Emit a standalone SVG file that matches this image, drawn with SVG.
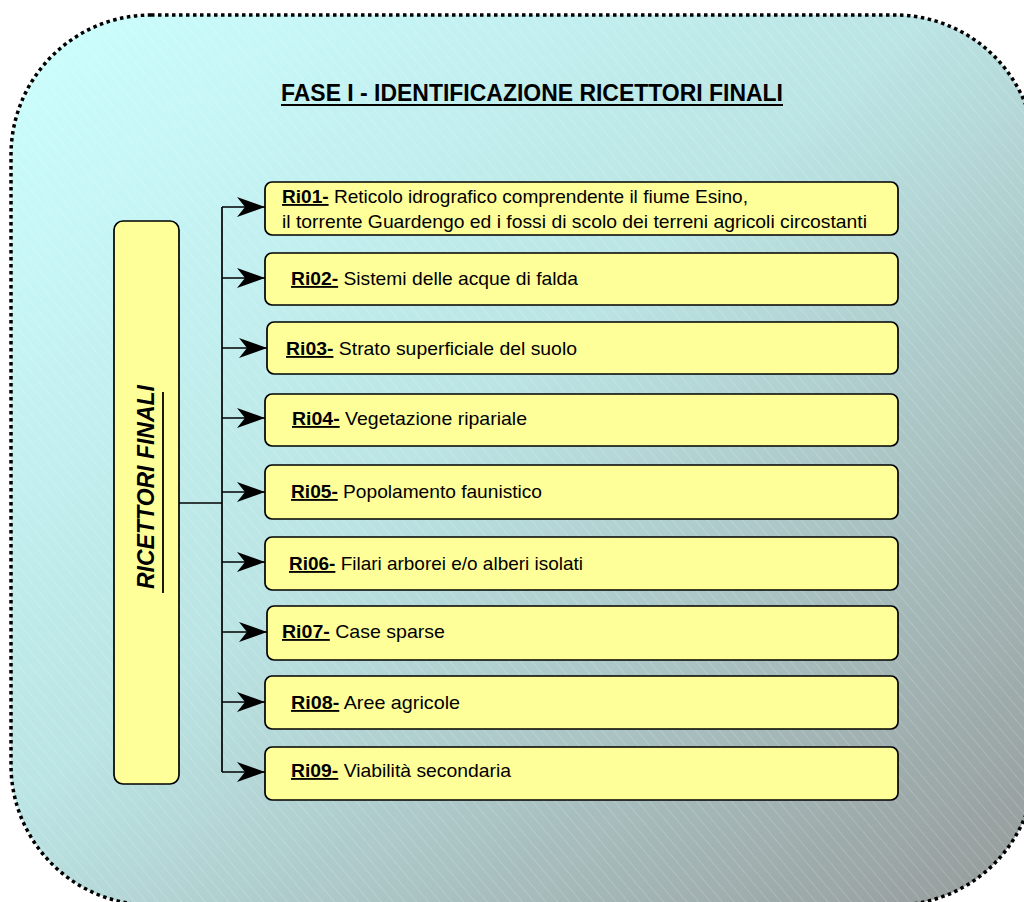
<svg xmlns="http://www.w3.org/2000/svg" width="1024" height="902" viewBox="0 0 1024 902">
  <defs>
    <linearGradient id="panelFill" x1="0" y1="0" x2="1" y2="1">
      <stop offset="0" stop-color="#CCFFFF"/>
      <stop offset="0.45" stop-color="#BBE4E4"/>
      <stop offset="1" stop-color="#959999"/>
    </linearGradient>
    <pattern id="hatch" width="9" height="9" patternUnits="userSpaceOnUse" patternTransform="rotate(-40)">
      <line x1="0" y1="0" x2="0" y2="9" stroke="#FFFFFF" stroke-opacity="0.4" stroke-width="0.8"/>
    </pattern>
    <marker id="arrow" markerUnits="userSpaceOnUse" markerWidth="32" markerHeight="24" refX="29" refY="12" orient="auto">
      <path d="M29,12 L1,2 L9,12 L1,22 Z" fill="#000"/>
    </marker>
    <style>
      .box { fill: #FFFF99; stroke: #000; stroke-width: 1.7; }
      .lbl { font-family: "Liberation Sans", Arial, sans-serif; font-size: 18.5px; fill: #000; }
      .b { font-weight: bold; text-decoration: underline; }
      .wire { fill: none; stroke: #000; stroke-width: 1.7; }
    </style>
  </defs>

  <!-- background panel -->
  <g id="panel">
    <rect x="11" y="15" width="1024" height="890" rx="140" ry="140" fill="url(#panelFill)"/>
    <rect x="11" y="15" width="1024" height="890" rx="140" ry="140" fill="url(#hatch)" stroke="#000" stroke-width="3.5" stroke-dasharray="3.5 3.5"/>
  </g>

  <!-- title -->
  <g id="title">
    <text x="281" y="101" font-family="Liberation Sans, Arial, sans-serif" font-size="23" font-weight="bold" textLength="502" lengthAdjust="spacingAndGlyphs">FASE I - IDENTIFICAZIONE RICETTORI FINALI</text>
    <line x1="281" y1="105" x2="783" y2="105" stroke="#000" stroke-width="2"/>
  </g>

  <!-- connectors -->
  <g id="connectors">
    <line class="wire" x1="179" y1="503" x2="222" y2="503" stroke-width="2.8"/>
    <line class="wire" x1="222" y1="207" x2="222" y2="772"/>
    <line class="wire" x1="222" y1="207" x2="265" y2="207" marker-end="url(#arrow)"/>
    <line class="wire" x1="222" y1="278" x2="265" y2="278" marker-end="url(#arrow)"/>
    <line class="wire" x1="222" y1="348" x2="267" y2="348" marker-end="url(#arrow)"/>
    <line class="wire" x1="222" y1="418" x2="265" y2="418" marker-end="url(#arrow)"/>
    <line class="wire" x1="222" y1="492" x2="265" y2="492" marker-end="url(#arrow)"/>
    <line class="wire" x1="222" y1="562" x2="265" y2="562" marker-end="url(#arrow)"/>
    <line class="wire" x1="222" y1="632" x2="267" y2="632" marker-end="url(#arrow)"/>
    <line class="wire" x1="222" y1="702" x2="265" y2="702" marker-end="url(#arrow)"/>
    <line class="wire" x1="222" y1="772" x2="265" y2="772" marker-end="url(#arrow)"/>
  </g>

  <!-- source node -->
  <g id="ricettori">
    <rect class="box" x="114" y="221" width="65" height="563" rx="9"/>
    <text transform="translate(154,589) rotate(-90)" font-family="Liberation Sans, Arial, sans-serif" font-size="23" font-weight="bold" font-style="italic" textLength="204" lengthAdjust="spacingAndGlyphs">RICETTORI FINALI</text>
    <line x1="163" y1="392" x2="163" y2="593" stroke="#000" stroke-width="1.8"/>
  </g>

  <!-- receptor nodes -->
  <g id="ri01">
    <rect class="box" x="265" y="182" width="633" height="53" rx="7"/>
    <text class="lbl" x="282" y="203" textLength="466" lengthAdjust="spacingAndGlyphs"><tspan class="b">Ri01-</tspan><tspan> Reticolo idrografico comprendente il fiume Esino,</tspan></text>
    <text class="lbl" x="282" y="228" textLength="585" lengthAdjust="spacingAndGlyphs">il torrente Guardengo ed i fossi di scolo dei terreni agricoli circostanti</text>
  </g>
  <g id="ri02">
    <rect class="box" x="265" y="253" width="633" height="52" rx="7"/>
    <text class="lbl" x="291" y="285" textLength="287" lengthAdjust="spacingAndGlyphs"><tspan class="b">Ri02-</tspan><tspan> Sistemi delle acque di falda</tspan></text>
  </g>
  <g id="ri03">
    <rect class="box" x="267" y="322" width="631" height="52" rx="7"/>
    <text class="lbl" x="286" y="355" textLength="291" lengthAdjust="spacingAndGlyphs"><tspan class="b">Ri03-</tspan><tspan> Strato superficiale del suolo</tspan></text>
  </g>
  <g id="ri04">
    <rect class="box" x="265" y="394" width="633" height="52" rx="7"/>
    <text class="lbl" x="292" y="425" textLength="235" lengthAdjust="spacingAndGlyphs"><tspan class="b">Ri04-</tspan><tspan> Vegetazione ripariale</tspan></text>
  </g>
  <g id="ri05">
    <rect class="box" x="265" y="465" width="633" height="54" rx="7"/>
    <text class="lbl" x="291" y="498" textLength="251" lengthAdjust="spacingAndGlyphs"><tspan class="b">Ri05-</tspan><tspan> Popolamento faunistico</tspan></text>
  </g>
  <g id="ri06">
    <rect class="box" x="265" y="537" width="633" height="53" rx="7"/>
    <text class="lbl" x="289" y="570" textLength="294" lengthAdjust="spacingAndGlyphs"><tspan class="b">Ri06-</tspan><tspan> Filari arborei e/o alberi isolati</tspan></text>
  </g>
  <g id="ri07">
    <rect class="box" x="267" y="606" width="631" height="54" rx="7"/>
    <text class="lbl" x="282" y="638" textLength="163" lengthAdjust="spacingAndGlyphs"><tspan class="b">Ri07-</tspan><tspan> Case sparse</tspan></text>
  </g>
  <g id="ri08">
    <rect class="box" x="265" y="676" width="633" height="53" rx="7"/>
    <text class="lbl" x="291" y="709" textLength="169" lengthAdjust="spacingAndGlyphs"><tspan class="b">Ri08-</tspan><tspan> Aree agricole</tspan></text>
  </g>
  <g id="ri09">
    <rect class="box" x="265" y="747" width="633" height="53" rx="7"/>
    <text class="lbl" x="291" y="777" textLength="220" lengthAdjust="spacingAndGlyphs"><tspan class="b">Ri09-</tspan><tspan> Viabilità secondaria</tspan></text>
  </g>
</svg>
